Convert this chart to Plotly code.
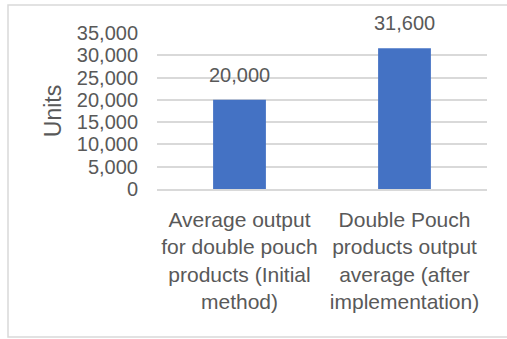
import plotly.graph_objects as go

categories = [
    "Average output<br>for double pouch<br>products (Initial<br>method)",
    "Double Pouch<br>products output<br>average (after<br>implementation)",
]
values = [20000, 31600]
y_tick_vals = [0, 5000, 10000, 15000, 20000, 25000, 30000, 35000]
y_tick_text = ["0", "5,000", "10,000", "15,000", "20,000", "25,000", "30,000", "35,000"]
y_title = "Units"

W, H = 507, 339
L, R, T, B = 157, 20, 33, 150
pw, ph = W - L - R, H - T - B

FONT = "Liberation Sans, Arial, sans-serif"
GREY = "#595959"

fig = go.Figure()
fig.add_trace(go.Bar(
    x=categories, y=values,
    marker=dict(color="#4472C4", line=dict(width=0)),
    width=0.32,
    hoverinfo="skip",
))

annotations = []
for c, v in zip(categories, values):
    annotations.append(dict(
        x=c, y=v, xref="x", yref="y",
        text=f"{v:,}", showarrow=False,
        yanchor="bottom", yshift=12,
        font=dict(family=FONT, size=20, color=GREY),
    ))

def px_x(p):
    return (p - L) / pw

def px_y(p):
    return (H - B - p) / ph

fig.update_layout(
    width=W, height=H,
    margin=dict(l=L, r=R, t=T, b=B, pad=0),
    paper_bgcolor="white", plot_bgcolor="white",
    showlegend=False,
    bargap=0.68,
    font=dict(family=FONT, size=20, color=GREY),
    annotations=annotations,
    shapes=[dict(
        type="rect", xref="paper", yref="paper",
        x0=px_x(8), x1=px_x(515), y0=px_y(337), y1=px_y(5),
        line=dict(color="#d9d9d9", width=1.5), fillcolor="rgba(0,0,0,0)",
        layer="below",
    )],
    xaxis=dict(
        showgrid=False, showline=True, linecolor="#d9d9d9", linewidth=1.5,
        ticks="", tickfont=dict(family=FONT, size=21, color=GREY),
        ticklabelstandoff=11,
        fixedrange=True,
    ),
    yaxis=dict(
        range=[0, 35000], tickvals=y_tick_vals, ticktext=y_tick_text,
        showgrid=True, gridcolor="#d9d9d9", gridwidth=1.5,
        zeroline=False, showline=False, ticks="",
        tickfont=dict(family=FONT, size=20, color=GREY),
        ticklabelstandoff=18,
        title=dict(text=y_title, font=dict(family=FONT, size=23, color=GREY), standoff=8),
        fixedrange=True,
    ),
)

fig.write_html("out.html")
